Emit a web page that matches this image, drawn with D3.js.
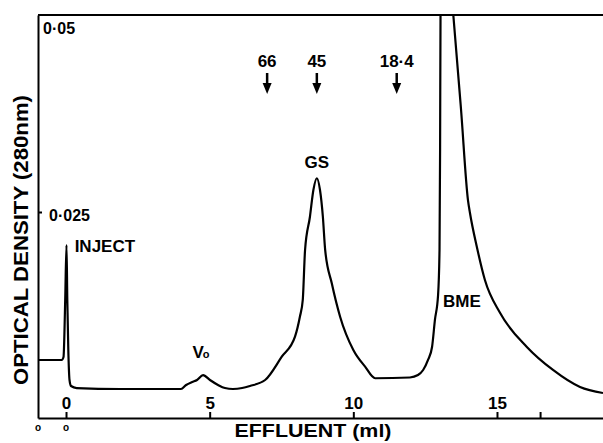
<!DOCTYPE html>
<html><head><meta charset="utf-8">
<script src="https://cdn.jsdelivr.net/npm/d3@7"></script>
<style>
html,body{margin:0;padding:0;background:#fff;}
svg text{font-family:"Liberation Sans",Arial,sans-serif;font-weight:700;fill:#000;}
</style></head>
<body><svg id="c" width="603" height="443"></svg>
<script>
// Effluent (ml)
const effluent = [-0.97,-0.15,-0.087,-0.028,0.017,0.045,0.08,0.122,0.174,0.372,1.88,4.0,4.18,4.39,4.56,4.77,5.01,5.29,5.53,5.81,6.13,6.40,6.93,7.51,7.97,8.14,8.24,8.32,8.49,8.61,8.73,8.84,8.94,9.02,9.25,9.54,10.0,10.41,10.76,11.97,12.25,12.43,12.60,12.74,12.84,12.95,13.0,13.02,13.035,13.23,13.48,13.75,13.99,14.06,14.30,14.58,15.11,16.04,16.95,17.89,18.69];
// Optical density (280 nm)
const density = [0.00622,0.00622,0.0066,0.01383,0.02081,0.01383,0.00749,0.00368,0.00292,0.00266,0.00254,0.00254,0.00305,0.00343,0.00368,0.00431,0.00368,0.00305,0.00266,0.00254,0.00266,0.00292,0.00368,0.00664,0.00918,0.01171,0.01383,0.02018,0.0244,0.02779,0.02928,0.02779,0.0244,0.02018,0.01595,0.01171,0.00749,0.00537,0.0039,0.004,0.00431,0.00495,0.00622,0.00787,0.0113,0.01447,0.02018,0.03287,0.05,0.0595,0.05,0.03794,0.02652,0.02487,0.02056,0.01637,0.01218,0.00787,0.00495,0.00279,0.00203];
const xTicks = [0,5,10,15,16.5];
const xTickLabels = ["0","5","10","15",""];
const yTicks = [0.025];
const yTickLabels = ["0·025"];
const markerNames = ["66","45","18·4"];
const markerPos = [7.0,8.73,11.51];
const peakLabels = ["INJECT","GS","BME"];

const svg = d3.select("#c");
const L=38, R=603, T=15, B=418;
const x = d3.scaleLinear().domain([-0.975,18.69]).range([L,R]);
const y = d3.scaleLinear().domain([-0.001142,0.05]).range([B,T]);

svg.append("defs").append("clipPath").attr("id","clip")
  .append("rect").attr("x",L).attr("y",T).attr("width",R-L).attr("height",B-T);

// frame top
svg.append("line").attr("x1",L).attr("x2",R).attr("y1",T).attr("y2",T).attr("stroke","#000").attr("stroke-width",2);

// x axis
const gx = svg.append("g").attr("transform",`translate(0,${B})`)
  .call(d3.axisTop(x).tickValues(xTicks).tickSize(6).tickSizeOuter(0).tickPadding(3)
     .tickFormat((d,i)=>xTickLabels[i]));
gx.select(".domain").attr("stroke-width",2);
gx.selectAll(".tick line").attr("stroke-width",2);
gx.selectAll("text").attr("font-size",17);

// y axis
const gy = svg.append("g").attr("transform",`translate(${L},0)`)
  .call(d3.axisRight(y).tickValues(yTicks).tickSize(4).tickSizeOuter(0).tickPadding(7)
     .tickFormat((d,i)=>yTickLabels[i]));
gy.select(".domain").attr("stroke-width",2);
gy.selectAll(".tick line").attr("stroke-width",2);
gy.selectAll("text").attr("font-size",16).attr("dy","0.55em");

svg.append("text").attr("x",L+5).attr("y",34).attr("font-size",16).text("0·05");

// curve
const pts = effluent.map((e,i)=>[e,density[i]]);
svg.append("path").datum(pts).attr("clip-path","url(#clip)")
  .attr("fill","none").attr("stroke","#000").attr("stroke-width",2.2).attr("stroke-linejoin","round")
  .attr("d", d3.line().x(d=>x(d[0])).y(d=>y(d[1])).curve(d3.curveMonotoneX));

// markers
markerNames.forEach((n,i)=>{
  const cx = x(markerPos[i]);
  svg.append("text").attr("x",cx).attr("y",67).attr("text-anchor","middle").attr("font-size",17).text(n);
  svg.append("line").attr("x1",cx).attr("x2",cx).attr("y1",73).attr("y2",85).attr("stroke","#000").attr("stroke-width",2.5);
  svg.append("path").attr("d",`M${cx-4.5},83L${cx+4.5},83L${cx},94Z`).attr("fill","#000");
});

// peak labels
svg.append("text").attr("x",x(0.3)).attr("y",252).attr("font-size",17).text(peakLabels[0]);
svg.append("text").attr("x",x(8.73)).attr("y",168).attr("text-anchor","middle").attr("font-size",17).text(peakLabels[1]);
svg.append("text").attr("x",443).attr("y",307).attr("font-size",17).text(peakLabels[2]);
// V0
const v = svg.append("text").attr("x",x(4.4)).attr("y",358).attr("font-size",17);
v.append("tspan").text("V");
v.append("tspan").attr("font-size",11).attr("dx",-1).text("o");

// small o marks below axis
[x(-0.975), x(0)].forEach(px=>{
  svg.append("text").attr("x",px).attr("y",431).attr("text-anchor","middle").attr("font-size",10).text("o");
});

// axis titles
svg.append("text").attr("x",313).attr("y",437).attr("text-anchor","middle").attr("font-size",19)
  .attr("textLength",157).attr("lengthAdjust","spacingAndGlyphs").text("EFFLUENT (ml)");
svg.append("text").attr("transform","translate(28,240) rotate(-90)").attr("text-anchor","middle").attr("font-size",20)
  .attr("textLength",290).attr("lengthAdjust","spacingAndGlyphs").text("OPTICAL DENSITY (280nm)");
</script></body></html>
